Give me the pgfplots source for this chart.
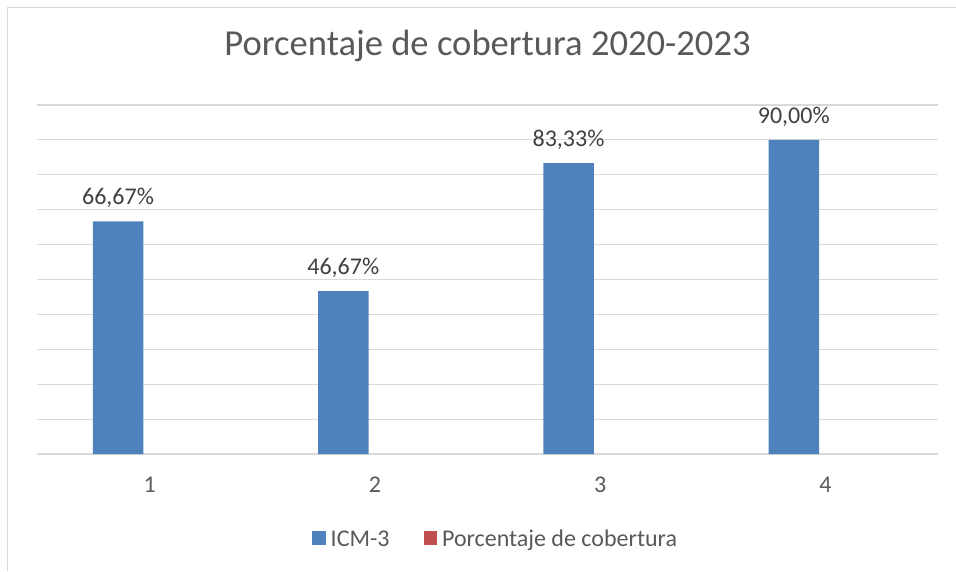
\documentclass[border=0pt]{standalone}
\usepackage{fontspec}
\setmainfont{Carlito}
\usepackage{pgfplots}
\pgfplotsset{compat=1.18}
\definecolor{barblue}{HTML}{4F81BD}
\definecolor{barred}{HTML}{C0504D}
\definecolor{gridgray}{HTML}{D9D9D9}
\definecolor{txtgray}{HTML}{595959}
\definecolor{lblgray}{HTML}{404040}
% square legend key, colour given explicitly
\pgfplotsset{sqlegend/.style={legend image code/.code={\fill[##1] (0pt,-5.5pt) rectangle (13.5pt,8pt);}}}

\begin{document}
\begin{tikzpicture}[x=1pt,y=1pt]
  \useasboundingbox (0,0) rectangle (956,571);
  % outer chart frame (right and bottom edges fall outside the picture)
  \draw[gridgray, line width=1.3pt] (7.5,0) -- (7.5,563.5) -- (956,563.5);
  \begin{axis}[
    at={(37pt,117pt)}, anchor=south west,
    scale only axis, width=901pt, height=349pt,
    xmin=0.5, xmax=4.5, ymin=0, ymax=100,
    ytick={0,10,...,100}, yticklabels={},
    xtick={1,2,3,4}, xticklabels={1,2,3,4},
    major tick length=0pt,
    axis line style={draw=none},
    ymajorgrids, grid style={gridgray, line width=1.1pt},
    tick label style={font=\fontsize{24}{28}\selectfont, text=txtgray},
    xticklabel style={anchor=base, yshift=-38pt},
    title={Porcentaje de cobertura 2020-2023},
    title style={at={(0.5,1)}, anchor=base, yshift=43pt,
      font=\fontsize{36.6}{44}\selectfont, text=txtgray},
    /pgf/number format/assume math mode=true,
    legend columns=2,
    legend style={draw=none, fill=none, at={(0.509,-0.2436)}, anchor=center,
      font=\fontsize{24}{28}\selectfont, text=txtgray,
      /tikz/every odd column/.append style={column sep=3pt},
      /tikz/every even column/.append style={column sep=32pt}},
    clip=false
  ]
    \addplot[ybar, bar width=50.5pt, bar shift=-31.6pt, fill=barblue, draw=none,
      sqlegend,
      nodes near coords={\pgfmathprintnumber[fixed, fixed zerofill, precision=2, use comma]{\pgfplotspointmeta}\%},
      every node near coord/.append style={anchor=base, xshift=-31.6pt, yshift=16.7pt,
        inner sep=0pt, font=\fontsize{24}{28}\selectfont, text=lblgray}]
      coordinates {(1,66.67) (2,46.67) (3,83.33) (4,90.00)};
    % second series is zero everywhere: nothing shows in the plot
    \addplot[ybar, bar width=50.5pt, bar shift=31.6pt, draw=none, fill=none,
      legend image code/.code={\fill[barred] (0pt,-5.5pt) rectangle (13.5pt,8pt);}]
      coordinates {(1,0) (2,0) (3,0) (4,0)};
    \legend{ICM-3, Porcentaje de cobertura}
  \end{axis}
\end{tikzpicture}
\end{document}
